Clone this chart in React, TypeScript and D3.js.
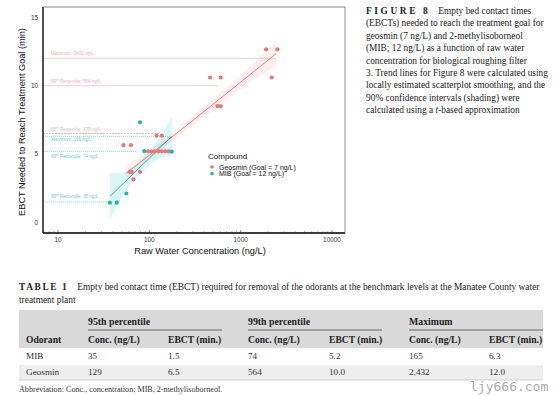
import React from 'react';
import * as d3 from 'd3';

// scatter values
const geosminConc = [1897, 2524, 462, 605, 2188, 556, 605, 120, 137, 52, 63, 97, 106, 115, 126, 137, 149, 162, 61, 64, 79, 67];
const geosminEbct = [12.65, 12.65, 10.6, 10.6, 10.6, 8.5, 8.5, 6.35, 6.35, 5.65, 5.65, 5.2, 5.2, 5.2, 5.2, 5.2, 5.2, 5.2, 3.7, 3.7, 3.7, 3.15];
const mibConc = [79, 88, 176, 56, 37, 44];
const mibEbct = [7.32, 5.22, 5.18, 2.12, 1.45, 1.45];

// loess trend lines + 90% bands
const geoFitConc = [56, 100, 200, 500, 1000, 2450];
const geoFit = [3.6, 4.92, 6.53, 8.65, 10.26, 12.35];
const geoLo = [3.0, 4.57, 6.23, 8.25, 9.76, 11.45];
const geoHi = [4.2, 5.27, 6.83, 9.05, 10.76, 13.25];
const mibFitConc = [37, 50, 75, 100, 140, 176];
const mibFit = [1.9, 2.75, 3.9, 4.71, 5.66, 6.3];
const mibLo = [0.2, 1.85, 3.4, 4.21, 4.76, 4.8];
const mibHi = [3.6, 3.65, 4.4, 5.21, 6.56, 7.8];

// benchmark reference lines
const refCompound = ['Geosmin', 'Geosmin', 'Geosmin', 'MIB', 'MIB', 'MIB'];
const refName = ['Maximum', '99th', '95th', 'Maximum', '99th', '95th'];
const refConc = [2432, 564, 129, 165, 74, 35];
const refEbct = [12.0, 10.0, 6.5, 6.3, 5.2, 1.5];
const refDy = [-3, -3, -3, 5, 6.5, -4];

const xTicks = [10, 100, 1000, 10000];
const yTicks = [0, 5, 10, 15];

const captionLines = [
  'Empty bed contact times',
  '(EBCTs) needed to reach the treatment goal for',
  'geosmin (7 ng/L) and 2-methylisoborneol',
  '(MIB; 12 ng/L) as a function of raw water',
  'concentration for biological roughing filter',
  '3. Trend lines for Figure 8 were calculated using',
  'locally estimated scatterplot smoothing, and the',
  '90% confidence intervals (shading) were',
];

// table 1
const tableOdorants = ['MIB', 'Geosmin'];
const p95Conc = ['35', '129'];
const p95Ebct = ['1.5', '6.5'];
const p99Conc = ['74', '564'];
const p99Ebct = ['5.2', '10.0'];
const maxConc = ['165', '2,432'];
const maxEbct = ['6.3', '12.0'];

const GEO = '#e07a7a';
const MIB = '#1fb5ad';
const SANS = "'Liberation Sans', Arial, sans-serif";
const SERIF = "'Liberation Serif', 'Times New Roman', serif";

export default function App() {
  const left = 43, right = 345, top = 7, bottom = 233;
  const x = d3.scaleLog().domain([10, 10000]).range([58, 332]);
  const y = d3.scaleLinear().domain([0, 15]).range([222.5, 17.3]);

  const fitPath = (cs: number[], vs: number[]) =>
    d3.line<number>().x((d, i) => x(cs[i])).y(d => y(d)).curve(d3.curveMonotoneX)(vs) || '';
  const bandPath = (cs: number[], lo: number[], hi: number[]) =>
    d3.area<number>().x((d, i) => x(cs[i])).y0((d, i) => y(lo[i])).y1(d => y(d)).curve(d3.curveMonotoneX)(hi) || '';

  const minor: { v: number; major: boolean }[] = [];
  [1, 10, 100, 1000].forEach(dec => {
    for (let k = 1; k <= 9; k++) {
      const v = dec * k;
      if (x(v) > left && x(v) < right) minor.push({ v, major: k === 1 });
    }
  });
  minor.push({ v: 10000, major: true });

  const cols = [26, 88, 168, 248, 329, 409, 489];
  const rows = tableOdorants.map((o, i) => [o, p95Conc[i], p95Ebct[i], p99Conc[i], p99Ebct[i], maxConc[i], maxEbct[i]]);

  return (
    <svg width={556} height={396} style={{ position: 'absolute', left: 0, top: 0, background: '#fff' }}>
      {/* frame */}
      <rect x={left} y={top} width={right - left} height={bottom - top} fill="#fff" stroke="#8a8a8a" strokeWidth={1} />

      {/* confidence bands */}
      <path d={bandPath(geoFitConc, geoLo, geoHi)} fill="#f8766d" fillOpacity={0.12} />
      <path d={bandPath(mibFitConc, mibLo, mibHi)} fill="#00bfc4" fillOpacity={0.14} />

      {/* benchmark lines */}
      {refConc.map((c, i) => {
        const geo = refCompound[i] === 'Geosmin';
        return (
          <line key={'r' + i} x1={left} x2={x(c)} y1={y(refEbct[i])} y2={y(refEbct[i])}
            stroke={geo ? (i === 2 ? '#d9a3a3' : '#e8c4c4') : '#6fcfcb'}
            strokeWidth={0.8} strokeDasharray={geo ? (i === 2 ? '2,1' : undefined) : '1,1'} />
        );
      })}
      {refConc.map((c, i) => {
        const geo = refCompound[i] === 'Geosmin';
        const name = refName[i];
        return (
          <text key={'l' + i} x={51} y={y(refEbct[i]) + refDy[i]} fontFamily={SANS} fontSize={4.6}
            fill={geo ? '#eab0b0' : '#6ccac6'}>
            {name === 'Maximum' ? 'Maximum: ' : name.slice(0, 2)}
            {name !== 'Maximum' && <tspan fontSize={3} dy={-1.5}>th</tspan>}
            {name !== 'Maximum' && <tspan dy={1.5}> Percentile: </tspan>}
            {c} ng/L
          </text>
        );
      })}

      {/* trend lines */}
      <path d={fitPath(geoFitConc, geoFit)} fill="none" stroke="#dd6b6b" strokeWidth={0.8} />
      <path d={fitPath(mibFitConc, mibFit)} fill="none" stroke="#239f99" strokeWidth={0.8} />

      {/* points */}
      {geosminConc.map((c, i) => (
        <circle key={'g' + i} cx={x(c)} cy={y(geosminEbct[i])} r={2.1} fill={GEO} />
      ))}
      {mibConc.map((c, i) => (
        <circle key={'m' + i} cx={x(c)} cy={y(mibEbct[i])} r={2.1} fill={MIB} />
      ))}

      {/* axes */}
      <line x1={left} x2={left} y1={top} y2={bottom} stroke="#111" strokeWidth={1.3} />
      <line x1={left} x2={right} y1={bottom} y2={bottom} stroke="#111" strokeWidth={1.3} />
      {minor.map(m => (
        <line key={'t' + m.v} x1={x(m.v)} x2={x(m.v)} y1={bottom} y2={bottom - (m.major ? 3 : 1.6)} stroke="#333" strokeWidth={0.6} />
      ))}
      {xTicks.map(t => (
        <text key={'x' + t} x={x(t)} y={241.5} textAnchor="middle" fontFamily={SANS} fontSize={6.4} fill="#333">{t}</text>
      ))}
      {yTicks.map(t => (
        <text key={'y' + t} x={38} y={y(t) + 2.2} textAnchor="end" fontFamily={SANS} fontSize={6.4} fill="#333">{t}</text>
      ))}
      <text x={200} y={253.5} textAnchor="middle" fontFamily={SANS} fontSize={9.2} fill="#111">Raw Water Concentration (ng/L)</text>
      <text transform="translate(25,122) rotate(-90)" textAnchor="middle" fontFamily={SANS} fontSize={9.2} fill="#111">
        EBCT Needed to Reach Treatment Goal (min)
      </text>

      {/* legend */}
      <text x={208} y={159} fontFamily={SANS} fontSize={8} fill="#111">Compound</text>
      <circle cx={212} cy={167} r={1.8} fill={GEO} />
      <text x={219} y={169.5} fontFamily={SANS} fontSize={7} fill="#111">Geosmin (Goal = 7 ng/L)</text>
      <circle cx={212} cy={173.6} r={1.8} fill={MIB} />
      <text x={219} y={176.1} fontFamily={SANS} fontSize={7} fill="#111">MIB (Goal = 12 ng/L)</text>

      {/* caption */}
      <text x={366} y={14} fontFamily={SERIF} fontSize={9.4} fill="#222">
        <tspan fontWeight="bold" letterSpacing={2.6}>FIGURE 8</tspan>
        <tspan dx={8}>{captionLines[0]}</tspan>
      </text>
      {captionLines.slice(1).map((l, i) => (
        <text key={'c' + i} x={366} y={14 + 12.4 * (i + 1)} fontFamily={SERIF} fontSize={9.4} fill="#222">{l}</text>
      ))}
      <text x={366} y={14 + 12.4 * 8} fontFamily={SERIF} fontSize={9.4} fill="#222">
        calculated using a <tspan fontStyle="italic">t</tspan>-based approximation
      </text>

      {/* table */}
      <text x={19} y={290} fontFamily={SERIF} fontSize={9.4} fill="#222">
        <tspan fontWeight="bold" letterSpacing={1.6}>TABLE 1</tspan>
        <tspan dx={9}>Empty bed contact time (EBCT) required for removal of the odorants at the benchmark levels at the Manatee County water</tspan>
      </text>
      <text x={19} y={303} fontFamily={SERIF} fontSize={9.4} fill="#222">treatment plant</text>
      <rect x={19} y={310} width={524} height={38} fill="#d9d9d9" />
      <rect x={19} y={365} width={524} height={15} fill="#eeeeee" />
      <line x1={19} x2={543} y1={380} y2={380} stroke="#c8c8c8" strokeWidth={0.8} />
      {[['95th percentile', 88, 222], ['99th percentile', 248, 382], ['Maximum', 409, 543]].map(([t, a, b]) => (
        <g key={t as string}>
          <text x={a as number} y={324.5} fontFamily={SERIF} fontSize={9.8} fontWeight="bold" fill="#222">{t}</text>
          <line x1={a as number} x2={b as number} y1={330} y2={330} stroke="#555" strokeWidth={0.9} />
        </g>
      ))}
      {['Odorant', 'Conc. (ng/L)', 'EBCT (min.)', 'Conc. (ng/L)', 'EBCT (min.)', 'Conc. (ng/L)', 'EBCT (min.)'].map((h, i) => (
        <text key={'h' + i} x={cols[i]} y={343} fontFamily={SERIF} fontSize={9.6} fontWeight="bold" fill="#222">{h}</text>
      ))}
      {rows.map((r, ri) =>
        r.map((v, ci) => (
          <text key={'v' + ri + ci} x={cols[ci]} y={359 + ri * 15.5} fontFamily={SERIF} fontSize={9.2} fill="#333">{v}</text>
        ))
      )}
      <text x={19} y={392} fontFamily={SERIF} fontSize={8.1} fill="#333">
        Abbreviation: Conc., concentration; MIB, 2-methylisoborneol.
      </text>
      <text x={470} y={391} fontFamily="'DejaVu Sans Mono', monospace" fontSize={13} fill="#9a9a9a" fillOpacity={0.85}>ljy666.com</text>
    </svg>
  );
}
